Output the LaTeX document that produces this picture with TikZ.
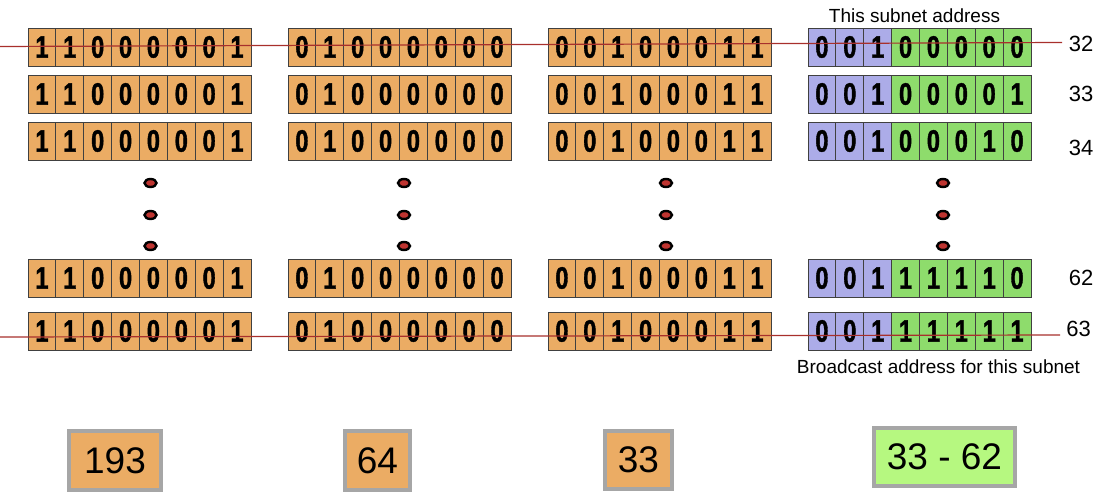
\documentclass[tikz,border=0pt]{standalone}
\usepackage{fontspec}
\setmainfont{Liberation Sans}
\newfontfamily\cellfont[FakeStretch=0.76,FakeBold=1.2]{Liberation Sans}
\usepackage{xcolor}
\definecolor{cellorange}{RGB}{235,172,100}
\definecolor{subpurple}{RGB}{172,172,232}
\definecolor{subgreen}{RGB}{142,220,108}
\definecolor{boxgreen}{RGB}{182,248,128}
\definecolor{cutred}{RGB}{168,48,44}
\definecolor{dotred}{RGB}{190,52,48}

\tikzset{
  bitcell/.style={draw=black!75, line width=0.8pt, minimum width=27.875pt,
    minimum height=38pt, inner sep=0pt, outer sep=0pt,
    font=\cellfont\bfseries\fontsize{31}{31}\selectfont},
  lbl/.style={inner sep=0pt, font=\fontsize{22}{22}\selectfont},
  cutline/.style={cutred, line width=1.2pt},
  valbox/.style={draw=black!35, line width=4pt, inner sep=0pt,
    font=\fontsize{37}{37}\selectfont},
  vdot/.style={ellipse, draw=black, line width=2.4pt, fill=dotred,
    minimum width=12pt, minimum height=8pt, inner sep=0pt}
}
\usetikzlibrary{shapes.geometric}

\begin{document}
\begin{tikzpicture}[x=1pt,y=-1pt]
\useasboundingbox (0,0) rectangle (1104,492);

\foreach \r/\y in {1/47,2/94,3/141,4/278,5/331}{
  \foreach \c/\x/\bits in {1/28/{1,1,0,0,0,0,0,1},2/288/{0,1,0,0,0,0,0,0},3/548/{0,0,1,0,0,0,1,1}}{
    \foreach \b [count=\k] in \bits
      \node[bitcell, fill=cellorange] (b\r-\c-\k) at ({\x+(\k-0.5)*27.875},\y) {\b};
  }
}

\foreach \r/\y/\bits in {1/47/{0,0,1,0,0,0,0,0},2/94/{0,0,1,0,0,0,0,1},3/141/{0,0,1,0,0,0,1,0},
    4/278/{0,0,1,1,1,1,1,0},5/331/{0,0,1,1,1,1,1,1}}{
  \foreach \b [count=\k] in \bits{
    \ifnum\k<4 \def\cl{subpurple}\else\def\cl{subgreen}\fi
    \node[bitcell, fill=\cl] (b\r-4-\k) at ({808+(\k-0.5)*27.875},\y) {\b};
  }
}

\foreach \c/\x in {1/150.5,2/404,3/666,4/943}
  \foreach \d/\y in {1/183,2/215,3/246}
    \node[vdot] (d\c-\d) at (\x,\y) {};

\coordinate (ta) at (0,46.5);
\coordinate (tb) at (1062,42.5);
\coordinate (ba) at (0,337);
\coordinate (bb) at (1060,335);
\draw[cutline] (ta) -- (tb);
\draw[cutline] (ba) -- (bb);

\node[lbl] (n32) at (1081,44) {32};
\node[lbl] (n33) at (1081,93.5) {33};
\node[lbl] (n34) at (1081,147.5) {34};
\node[lbl] (n62) at (1081,278) {62};
\node[lbl] (n63) at (1078.5,329) {63};

\node[lbl, font=\fontsize{19}{19}\selectfont] (subnet) at (914.5,16) {This subnet address};
\node[lbl, font=\fontsize{19}{19}\selectfont] (bcast) at (938.5,367) {Broadcast address for this subnet};

\node[valbox, fill=cellorange, minimum width=92pt, minimum height=59pt] (v193) at (115,460.5) {193};
\node[valbox, fill=cellorange, minimum width=65pt, minimum height=59pt] (v64) at (377.5,460.5) {64};
\node[valbox, fill=cellorange, minimum width=67pt, minimum height=58pt] (v33) at (638.5,460) {33};
\node[valbox, fill=boxgreen, minimum width=141pt, minimum height=58pt] (vrange) at (944.5,457) {33 - 62};
\end{tikzpicture}
\end{document}
